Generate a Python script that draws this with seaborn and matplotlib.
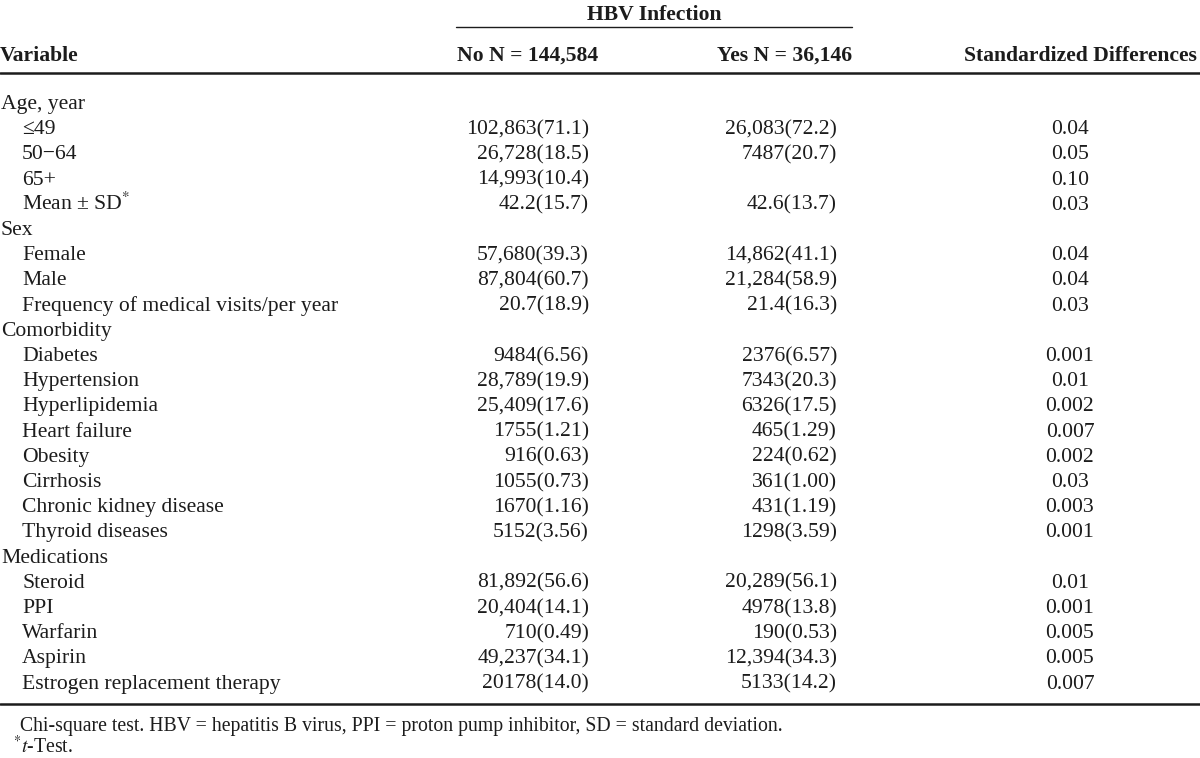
import matplotlib
matplotlib.use("Agg")
import seaborn as sns
import matplotlib.pyplot as plt

sns.set_theme(style="white")
plt.rcParams["font.family"] = ["Liberation Serif", "DejaVu Serif"]
plt.rcParams["mathtext.fontset"] = "stix"

# table content
variables = ["Age, year", "≤49", "50−64", "65+", "Mean ± SD$^{*}$",
             "Sex", "Female", "Male", "Frequency of medical visits/per year",
             "Comorbidity", "Diabetes", "Hypertension", "Hyperlipidemia",
             "Heart failure", "Obesity", "Cirrhosis", "Chronic kidney disease",
             "Thyroid diseases",
             "Medications", "Steroid", "PPI", "Warfarin", "Aspirin",
             "Estrogen replacement therapy"]
indent = [0, 1, 1, 1, 1, 0, 1, 1, 1, 0, 1, 1, 1, 1, 1, 1, 1, 1, 0, 1, 1, 1, 1, 1]
no_vals = ["", "102,863(71.1)", "26,728(18.5)", "14,993(10.4)", "42.2(15.7)",
           "", "57,680(39.3)", "87,804(60.7)", "20.7(18.9)",
           "", "9484(6.56)", "28,789(19.9)", "25,409(17.6)", "1755(1.21)",
           "916(0.63)", "1055(0.73)", "1670(1.16)", "5152(3.56)",
           "", "81,892(56.6)", "20,404(14.1)", "710(0.49)", "49,237(34.1)",
           "20178(14.0)"]
yes_vals = ["", "26,083(72.2)", "7487(20.7)", "", "42.6(13.7)",
            "", "14,862(41.1)", "21,284(58.9)", "21.4(16.3)",
            "", "2376(6.57)", "7343(20.3)", "6326(17.5)", "465(1.29)",
            "224(0.62)", "361(1.00)", "431(1.19)", "1298(3.59)",
            "", "20,289(56.1)", "4978(13.8)", "190(0.53)", "12,394(34.3)",
            "5133(14.2)"]
std_diff = ["", "0.04", "0.05", "0.10", "0.03",
            "", "0.04", "0.04", "0.03",
            "", "0.001", "0.01", "0.002", "0.007",
            "0.002", "0.03", "0.003", "0.001",
            "", "0.01", "0.001", "0.005", "0.005", "0.007"]
headers = ["Variable", "No N = 144,584", "Yes N = 36,146", "Standardized Differences"]
group_header = "HBV Infection"
footnotes = ["Chi-square test. HBV = hepatitis B virus, PPI = proton pump inhibitor, SD = standard deviation.",
             "$^{*}$$\\it{t}$-Test."]

fig = plt.figure(figsize=(12, 7.58), dpi=100)
ax = fig.add_axes([0, 0, 1, 1])
ax.set_xlim(0, 1200)
ax.set_ylim(758, 0)
ax.axis("off")

fs = 15.6
color = "#1c1c1c"
base = 6  # baseline offset below row centre


def cell(x, y, s, ha="left", size=fs, weight="normal"):
    ax.text(x, y + base, s, ha=ha, va="baseline", fontsize=size,
            fontweight=weight, color=color)


# header block
cell(654, 14, group_header, ha="center", weight="bold")
ax.plot([456, 852], [27, 27], color=color, lw=1.0)
cell(0, 55, headers[0], weight="bold")
cell(598, 55, headers[1], ha="right", weight="bold")
cell(852, 55, headers[2], ha="right", weight="bold")
cell(1197, 55, headers[3], ha="right", weight="bold")
ax.plot([0, 1200], [73, 73], color=color, lw=1.8)

# body rows
y0, dy = 103, 25.2
for i, name in enumerate(variables):
    y = y0 + i * dy
    cell(1 + 21 * indent[i], y, name)
    cell(589, y, no_vals[i], ha="right")
    cell(837, y, yes_vals[i], ha="right")
    cell(1070, y, std_diff[i], ha="center")

y_end = y0 + (len(variables) - 1) * dy
ax.plot([0, 1200], [y_end + 21, y_end + 21], color=color, lw=1.8)
cell(20, y_end + 42, footnotes[0], size=fs - 1.4)
cell(13, y_end + 64, footnotes[1], size=fs - 1.4)

fig.savefig("out.png", dpi=100, facecolor="white")
